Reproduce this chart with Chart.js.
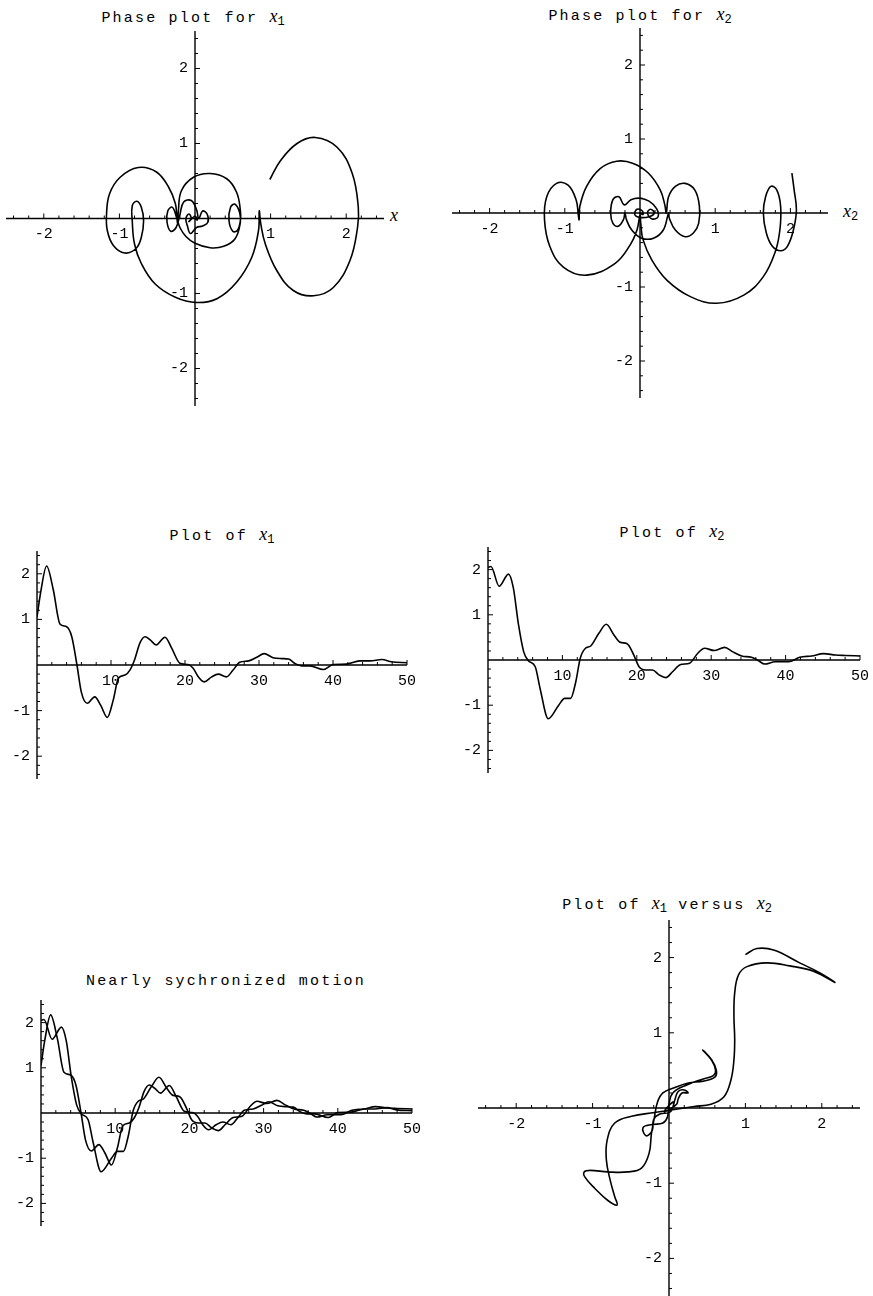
<!DOCTYPE html>
<html>
<head>
<meta charset="utf-8">
<title>Coupled oscillators</title>
<script src="https://cdn.jsdelivr.net/npm/chart.js@4.4.1/dist/chart.umd.min.js"></script>
<style>
  html, body { margin: 0; padding: 0; background: #fff; overflow: hidden; }
  body { position: relative; width: 873px; height: 1296px; }
  .plot { position: absolute; }
  .title { position: absolute; width: 300px; text-align: center; white-space: nowrap;
           font: 15px "Liberation Mono", monospace; letter-spacing: 2.2px; line-height: 20px; color: #000; }
  .title i, .axname i { font-family: "Liberation Serif", serif; font-style: italic; font-size: 18px; letter-spacing: 0; }
  .title sub, .axname sub { font-size: 12px; line-height: 0; vertical-align: -3px; letter-spacing: 0; }
  .axname { position: absolute; font: 15px "Liberation Mono", monospace; line-height: 20px; color: #000; }
</style>
</head>
<body>
<div class="title" style="left:43px;top:6px">Phase plot for <i>x</i><sub>1</sub></div>
<div class="title" style="left:490px;top:4px">Phase plot for <i>x</i><sub>2</sub></div>
<div class="title" style="left:72px;top:524px">Plot of <i>x</i><sub>1</sub></div>
<div class="title" style="left:522px;top:521px">Plot of <i>x</i><sub>2</sub></div>
<div class="title" style="left:76px;top:972px">Nearly sychronized motion</div>
<div class="title" style="left:517px;top:893px">Plot of <i>x</i><sub>1</sub> versus <i>x</i><sub>2</sub></div>
<div class="axname" style="left:390px;top:205px"><i>x</i></div>
<div class="axname" style="left:843px;top:201px"><i>x</i><sub>2</sub></div>

<script>
// tick labels
const phaseTicks = [-2, -1, 1, 2];
const timeTicks = [10, 20, 30, 40, 50];
const ampTicks = [2, 1, -1, -2];

const x1Time = [0, 0.5, 1.3, 2.2, 3.1, 4.0, 4.7, 5.4, 6.0, 6.8, 7.8, 8.6, 9.5, 10.3, 11.0, 11.9, 12.6, 13.2, 13.9, 14.6,
  15.3, 16.1, 17.3, 18.2, 19.3, 20.4, 21.1, 21.8, 22.6, 23.6, 24.5, 25.6, 26.5, 27.4, 28.6, 29.7, 30.7, 31.9, 33.1, 34.0,
  34.9, 35.8, 36.9, 38.7, 40.0, 41.8, 43.6, 45.0, 46.6, 47.9, 50];
const x1Value = [1.05, 1.6, 2.17, 1.65, 0.9, 0.84, 0.62, 0, -0.6, -0.84, -0.7, -0.88, -1.15, -0.77, -0.29, -0.22, -0.1, 0.12, 0.48, 0.62,
  0.55, 0.44, 0.61, 0.37, 0.04, 0.01, -0.07, -0.26, -0.37, -0.26, -0.2, -0.26, -0.11, 0.06, 0.09, 0.17, 0.25, 0.16, 0.14, 0.13,
  0.03, -0.02, -0.02, -0.1, 0.01, 0.02, 0.09, 0.09, 0.12, 0.07, 0.05];

const x2Time = [0, 0.4, 1.5, 2.75, 3.4, 4.1, 4.8, 5.45, 6.35, 7.0, 8.1, 9.5, 10.3, 11.1, 11.8, 12.4, 13.1, 13.8, 14.9, 15.9,
  16.9, 17.8, 18.7, 19.6, 20.3, 21.2, 22.1, 23.0, 23.9, 24.8, 25.9, 27.1, 28.2, 29.1, 30.4, 31.8, 32.9, 34.1, 35.4, 36.3,
  37.2, 38.6, 40.4, 41.9, 43.5, 45.1, 46.7, 48.0, 50];
const x2Value = [2.05, 2.07, 1.63, 1.9, 1.6, 0.78, 0.18, -0.02, -0.15, -0.63, -1.3, -1.0, -0.85, -0.85, -0.48, 0.04, 0.26, 0.31, 0.59, 0.79,
  0.56, 0.39, 0.36, 0.11, -0.15, -0.22, -0.22, -0.33, -0.39, -0.26, -0.1, -0.07, 0.15, 0.26, 0.21, 0.28, 0.18, 0.09, 0.06, -0.01,
  -0.09, -0.04, -0.04, 0.06, 0.09, 0.14, 0.11, 0.1, 0.09];

// phase plot for x1 (position, velocity)
const phase1Pos = [0.99, 1.13, 1.35, 1.59, 1.88, 2.08, 2.16, 2.15, 2.05, 1.83, 1.57, 1.3, 1.08, 0.93, 0.87, 0.85, 0.84, 0.75, 0.55, 0.29,
  0.02, -0.26, -0.53, -0.71, -0.8, -0.83, -0.83, -0.77, -0.71, -0.68, -0.71, -0.78, -0.93, -1.08, -1.16, -1.17, -1.13, -0.99, -0.75, -0.51,
  -0.35, -0.26, -0.24, -0.23, -0.22, -0.18, -0.02, 0.2, 0.42, 0.55, 0.6, 0.6, 0.56, 0.5, 0.45, 0.47, 0.53, 0.59, 0.6, 0.53,
  0.38, 0.2, 0.0, -0.12, -0.2, -0.24, -0.3, -0.36, -0.37, -0.32, -0.25, -0.2, -0.15, -0.05, 0.02, 0.05, 0.1, 0.16, 0.17, 0.1,
  0.02, -0.06, -0.1, -0.12, -0.08, -0.05, -0.08, 0.0, 0.03, 0.0];
const phase1Vel = [0.52, 0.77, 1.0, 1.08, 0.95, 0.6, 0.15, -0.12, -0.56, -0.92, -1.03, -0.96, -0.69, -0.34, -0.07, 0.1, -0.16, -0.52, -0.85, -1.07,
  -1.12, -1.05, -0.87, -0.6, -0.34, -0.03, 0.17, 0.23, 0.15, -0.03, -0.25, -0.4, -0.46, -0.36, -0.16, 0.06, 0.33, 0.55, 0.68, 0.62,
  0.42, 0.2, 0.02, -0.06, 0.1, 0.37, 0.55, 0.6, 0.53, 0.35, 0.11, -0.03, -0.16, -0.17, -0.03, 0.15, 0.19, 0.08, -0.05, -0.27,
  -0.37, -0.39, -0.33, -0.24, -0.12, 0.0, 0.15, 0.1, -0.05, -0.17, -0.12, 0.05, 0.22, 0.24, 0.12, 0.0, 0.1, 0.06, -0.05, -0.1,
  -0.12, -0.2, -0.1, 0.0, 0.06, 0.0, -0.04, 0.03, -0.02, 0.0];

// phase plot for x2 (position, velocity)
const phase2Pos = [2.02, 2.05, 2.08, 2.04, 1.96, 1.87, 1.76, 1.68, 1.64, 1.67, 1.74, 1.82, 1.87, 1.86, 1.8, 1.64, 1.38, 1.02, 0.67, 0.36,
  0.16, 0.04, 0.01, 0.0, -0.04, -0.13, -0.33, -0.71, -1.02, -1.2, -1.27, -1.24, -1.11, -0.96, -0.85, -0.82, -0.81, -0.8, -0.71, -0.53,
  -0.31, -0.09, 0.11, 0.27, 0.33, 0.35, 0.38, 0.47, 0.6, 0.73, 0.79, 0.78, 0.71, 0.6, 0.47, 0.39, 0.38, 0.31, 0.18, 0.02,
  -0.11, -0.18, -0.2, -0.22, -0.29, -0.36, -0.39, -0.36, -0.28, -0.21, -0.12, 0.0, 0.12, 0.22, 0.24, 0.16, 0.1, 0.14, 0.19, 0.12,
  0.0, -0.07, -0.04, 0.03, 0.04, 0.0];
const phase2Vel = [0.54, 0.31, 0.04, -0.23, -0.45, -0.51, -0.45, -0.27, 0.0, 0.22, 0.36, 0.31, 0.09, -0.23, -0.52, -0.86, -1.11, -1.22, -1.13, -0.91,
  -0.64, -0.36, -0.14, -0.03, -0.23, -0.43, -0.68, -0.84, -0.73, -0.45, -0.09, 0.22, 0.4, 0.38, 0.18, -0.03, -0.09, 0.09, 0.36, 0.6,
  0.7, 0.67, 0.54, 0.31, 0.11, 0.0, 0.22, 0.36, 0.4, 0.31, 0.09, -0.14, -0.27, -0.32, -0.23, -0.07, 0.0, -0.23, -0.34, -0.34,
  -0.23, -0.09, 0.0, -0.09, -0.18, -0.14, 0.0, 0.18, 0.22, 0.11, 0.18, 0.2, 0.16, 0.06, -0.05, -0.08, 0.0, 0.05, 0.0, -0.05,
  -0.06, -0.02, 0.05, 0.03, -0.02, 0.0];

// x1 versus x2
const versusX1 = [1.0, 1.15, 1.37, 1.71, 1.97, 2.17, 1.89, 1.58, 1.28, 1.02, 0.91, 0.86, 0.85, 0.86, 0.85, 0.81, 0.72, 0.55, 0.33, 0.07,
  -0.19, -0.49, -0.71, -0.81, -0.82, -0.77, -0.71, -0.68, -0.8, -0.97, -1.1, -1.11, -1.03, -0.8, -0.54, -0.36, -0.26, -0.23, -0.19, -0.15,
  -0.08, 0.07, 0.24, 0.46, 0.6, 0.62, 0.56, 0.44, 0.56, 0.61, 0.58, 0.46, 0.24, 0.05, 0.0, -0.02, -0.08, -0.22, -0.34, -0.3,
  -0.22, -0.2, -0.12, 0.02, 0.08, 0.12, 0.2, 0.25, 0.17, 0.12, 0.1, 0.0, -0.06, -0.03, 0.05, 0.06];
const versusX2 = [2.04, 2.12, 2.1, 1.93, 1.8, 1.67, 1.82, 1.89, 1.93, 1.88, 1.77, 1.53, 1.22, 0.91, 0.64, 0.37, 0.15, 0.05, 0.02, -0.02,
  -0.06, -0.11, -0.2, -0.43, -0.69, -0.96, -1.18, -1.29, -1.23, -1.07, -0.92, -0.85, -0.83, -0.85, -0.85, -0.8, -0.6, -0.34, -0.12, 0.08,
  0.2, 0.27, 0.33, 0.36, 0.41, 0.5, 0.64, 0.77, 0.63, 0.5, 0.43, 0.39, 0.31, 0.2, 0.05, -0.12, -0.2, -0.22, -0.26, -0.37,
  -0.3, -0.15, -0.08, -0.05, 0.12, 0.22, 0.24, 0.2, 0.2, 0.12, 0.05, -0.02, -0.05, 0.0, 0.08, 0.06];

const ink = '#000';

function pairs(xs, ys) {
  return xs.map((v, i) => ({ x: v, y: ys[i] }));
}

function stepsBetween(min, max, step) {
  const out = [];
  for (let k = Math.ceil(min / step - 1e-9); k * step <= max + 1e-9; k++) out.push(+(k * step).toFixed(6));
  return out;
}

// Mathematica-style axes crossing at the origin
const mathAxes = {
  id: 'mathAxes',
  beforeDatasetsDraw(chart, args, o) {
    const ctx = chart.ctx;
    const xs = chart.scales.x, ys = chart.scales.y;
    const ox = xs.getPixelForValue(0), oy = ys.getPixelForValue(0);
    ctx.save();
    ctx.strokeStyle = ink;
    ctx.lineWidth = 1.4;
    ctx.beginPath();
    ctx.moveTo(xs.left, oy); ctx.lineTo(xs.right, oy);
    ctx.moveTo(ox, ys.top); ctx.lineTo(ox, ys.bottom);
    ctx.stroke();

    ctx.lineWidth = 1;
    ctx.beginPath();
    stepsBetween(xs.min, xs.max, o.xMinor).forEach(v => {
      if (Math.abs(v) < 1e-9) return;
      const major = Math.abs(v / o.xMajor - Math.round(v / o.xMajor)) < 1e-6;
      const p = xs.getPixelForValue(v);
      ctx.moveTo(p, oy); ctx.lineTo(p, oy - (major ? 5 : 3));
    });
    stepsBetween(ys.min, ys.max, o.yMinor).forEach(v => {
      if (Math.abs(v) < 1e-9) return;
      const major = Math.abs(v / o.yMajor - Math.round(v / o.yMajor)) < 1e-6;
      const p = ys.getPixelForValue(v);
      ctx.moveTo(ox, p); ctx.lineTo(ox + (major ? 5 : 3), p);
    });
    ctx.stroke();

    ctx.fillStyle = ink;
    ctx.font = '15px "Liberation Mono", monospace';
    ctx.textAlign = 'center';
    ctx.textBaseline = 'middle';
    o.xLabels.forEach(v => ctx.fillText(String(v), xs.getPixelForValue(v), oy + 16));
    ctx.textAlign = 'right';
    o.yLabels.forEach(v => ctx.fillText(String(v), ox - 7, ys.getPixelForValue(v)));
    ctx.restore();
  }
};

function makePlot(area, xRange, yRange, datasets, axes) {
  const [l, t, r, b] = area;
  const pad = { left: Math.min(40, l), top: 12, right: 14, bottom: 12 };
  const w = r - l + pad.left + pad.right;
  const h = b - t + pad.top + pad.bottom;
  const box = document.createElement('div');
  box.className = 'plot';
  box.style.left = (l - pad.left) + 'px';
  box.style.top = (t - pad.top) + 'px';
  box.style.width = w + 'px';
  box.style.height = h + 'px';
  const canvas = document.createElement('canvas');
  canvas.width = w; canvas.height = h;
  canvas.style.width = w + 'px'; canvas.style.height = h + 'px';
  box.appendChild(canvas);
  document.body.appendChild(box);

  return new Chart(canvas, {
    type: 'scatter',
    data: { datasets: datasets },
    options: {
      responsive: false,
      animation: false,
      layout: { padding: pad },
      plugins: {
        legend: { display: false },
        tooltip: { enabled: false },
        mathAxes: axes
      },
      scales: {
        x: { type: 'linear', min: xRange[0], max: xRange[1], display: false },
        y: { type: 'linear', min: yRange[0], max: yRange[1], display: false }
      },
      elements: { point: { radius: 0 } }
    },
    plugins: [mathAxes]
  });
}

function curve(points, smooth) {
  const ds = { data: points, showLine: true, borderColor: ink, borderWidth: 1.6, pointRadius: 0, fill: false };
  if (smooth === 'monotone') ds.cubicInterpolationMode = 'monotone';
  else ds.tension = 0.4;
  return ds;
}

const phaseAxes = { xMinor: 0.2, xMajor: 1, yMinor: 0.2, yMajor: 1, xLabels: phaseTicks, yLabels: ampTicks };
const timeAxes = { xMinor: 2, xMajor: 10, yMinor: 0.2, yMajor: 1, xLabels: timeTicks, yLabels: ampTicks };

makePlot([6, 31, 384, 406], [-2.5, 2.5], [-2.5, 2.5], [curve(pairs(phase1Pos, phase1Vel))], phaseAxes);
makePlot([452, 28, 828, 398], [-2.5, 2.5], [-2.5, 2.5], [curve(pairs(phase2Pos, phase2Vel))], phaseAxes);
makePlot([37, 551, 407, 779], [0, 50], [-2.5, 2.5], [curve(pairs(x1Time, x1Value), 'monotone')], timeAxes);
makePlot([488, 547, 860, 773], [0, 50], [-2.5, 2.5], [curve(pairs(x2Time, x2Value), 'monotone')], timeAxes);
makePlot([41, 1000, 412, 1226], [0, 50], [-2.5, 2.5],
  [curve(pairs(x1Time, x1Value), 'monotone'), curve(pairs(x2Time, x2Value), 'monotone')], timeAxes);
makePlot([478, 920, 860, 1296], [-2.5, 2.5], [-2.5, 2.5], [curve(pairs(versusX1, versusX2))], phaseAxes);
</script>
</body>
</html>
